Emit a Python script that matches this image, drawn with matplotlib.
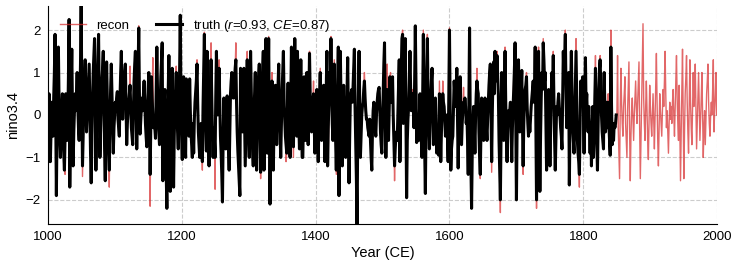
import numpy as np
import matplotlib
matplotlib.use("Agg")
import matplotlib.pyplot as plt

plt.rcParams['font.family'] = ['Liberation Sans', 'DejaVu Sans']
plt.rcParams['mathtext.fontset'] = 'custom'
plt.rcParams['mathtext.rm'] = 'Liberation Sans'
plt.rcParams['mathtext.it'] = 'Liberation Sans:italic'

# ---------------- data (annual values, nino3.4) ----------------
truth_1000 = [
    -1.1, -0.2, 0.5, -0.3, -1.1, -0.4, 0.3, -0.1, -0.5, 0.4,
    1.0, 1.9, 0.0, -1.9, -0.2, 0.8, 1.6, 0.3, -0.6, -1.0,
    -0.3, 0.2, 0.5, -0.4, -0.9, -1.3, -0.5, 0.5, 0.2, -0.6,
    -0.2, 0.9, 2.25, -1.7, -0.3, 0.6, 1.55, 0.1, -1.2, -0.4,
    0.1, 0.5, 0.1, 0.5, 1.0, 0.2, -0.3, -0.6, 0.3, 1.2,
    2.6, 0.4, -1.2, -0.5, 0.4, 0.9, 1.3, 0.6, -0.4, 0.0,
    0.4, 0.8, 1.2, 0.1, -0.9, -1.6, -0.6, 0.4, 1.0, 1.4,
    1.8, 0.3, -1.3, -0.4, 0.5, 1.2, 1.9, 0.4, -1.0, -0.3,
    0.3, 0.8, 1.1, 1.5, 0.2, -0.8, -1.55, -0.2, 1.25, 0.4,
    -0.4, -0.9, -1.3, -0.2, 0.6, 1.2, 0.5, -0.3, -0.9, -0.3]
truth_1100 = [
    0.0, 0.3, 0.2, 0.4, 0.55, -0.1, -0.3, -0.5, 0.4, 1.0,
    1.5, 0.6, -0.1, 0.3, 0.8, 1.0, 1.2, 0.2, -0.7, -0.2,
    0.1, 0.3, 0.5, 0.7, 0.2, -0.3, -0.5, -0.7, 0.1, 0.8,
    1.2, 1.5, 0.3, -0.8, 0.1, 1.0, 2.05, 0.5, -0.45, -0.1,
    0.2, 0.4, 0.1, 0.5, 0.8, 0.3, -0.2, -0.5, -0.75, 0.1,
    0.6, 1.0, 0.0, -1.4, -0.2, 0.9, 0.4, 0.0, -0.3, -0.1,
    -0.3, -0.55, 0.5, 1.6, 0.6, -0.1, -0.4, -0.7, 0.2, 0.9,
    1.3, 1.7, -1.55, -0.4, 0.3, 0.6, -0.5, -1.3, -2.2, -0.3,
    0.6, 1.4, -0.2, -1.8, -0.4, 0.5, 1.1, -0.3, -1.7, -0.5,
    0.2, 0.6, 1.0, 0.1, -0.4, -0.8, 0.1, 1.0, 2.35, 0.4]
truth_1200 = [
    -0.5, -1.05, 0.0, 0.9, -0.1, -0.6, -1.0, 0.85, 0.2, -0.2,
    -0.3, -0.5, 0.85, 0.1, -0.4, -0.7, -1.0, -0.2, -0.9, -0.1,
    0.3, 0.55, 0.8, 1.2, 0.3, -0.4, -0.7, -1.0, -0.5, -0.2,
    -0.8, -1.1, 0.2, 1.0, 1.9, 0.4, -0.3, -0.85, 1.5, 0.3,
    -0.5, -1.2, -0.3, 0.6, 1.3, 0.4, -0.4, -1.0, -0.3, -0.6,
    -1.0, 0.4, 1.5, 0.6, 0.0, 0.5, 1.1, 0.3, -0.5, -0.9,
    -1.4, -2.05, -0.6, 0.4, -0.1, -0.5, -0.8, 0.0, 0.45, -0.3,
    -0.8, -1.3, -0.4, 0.5, 0.8, 1.0, 0.7, 0.4, 0.4, 0.8,
    1.1, 1.3, 0.3, -0.4, -0.85, -1.2, -1.5, -1.9, 1.1, 0.3,
    -0.1, -0.4, 0.4, 1.1, 0.0, -1.2, -0.4, 0.5, 1.3, 0.0]
truth_1300 = [
    -0.5, -1.0, 0.2, 1.5, 0.6, -0.3, -0.8, -1.2, 0.0, 0.5,
    1.0, -0.2, -1.3, -0.3, 0.5, 0.9, 1.2, -0.2, -1.35, -0.4,
    0.4, 1.0, 1.5, -1.3, 0.1, 1.0, 1.8, 0.4, -0.9, 0.4,
    1.8, -0.2, -2.1, -0.6, 0.3, 0.8, -0.3, -1.3, -0.2, 0.3,
    0.7, 0.0, -0.7, 0.1, 0.7, 1.2, 0.2, -0.4, -1.0, -0.2,
    0.5, 1.0, 1.5, 0.4, -0.1, -0.5, -0.7, -0.9, 0.1, 0.75,
    -0.2, -0.6, -1.0, 0.3, 1.6, 0.5, -0.2, -0.75, 0.5, 1.8,
    0.6, -0.1, -0.5, 1.5, 0.6, -0.2, -0.8, 0.3, 1.3, 0.1,
    -1.0, -1.0, 0.0, 0.9, 0.2, -0.6, 0.2, 1.0, 0.1, -0.7,
    0.4, 1.45, 0.5, 0.0, -0.4, 0.1, 0.3, 0.5, -0.2, -0.9]
truth_1400 = [
    -0.2, 0.3, 0.6, -0.3, -1.1, -0.2, 0.5, 1.0, 0.2, -0.6,
    0.0, 0.4, 0.7, -0.3, -1.1, -0.2, 0.6, 1.5, -1.2, -0.3,
    0.4, 1.0, 0.5, 1.8, 0.5, -0.2, -0.6, 0.4, 1.2, 0.1,
    -0.6, -1.3, -0.2, 0.6, 1.6, -1.9, -0.3, 1.5, 0.4, -0.5,
    -1.2, -0.1, 0.7, -0.2, -0.6, -1.0, -0.1, 0.5, 1.35, 0.0,
    -1.6, -0.5, 0.4, 0.5, 0.6, 0.3, 0.65, 1.1, 1.55, 0.2,
    -0.7, -1.5, -2.7, -0.4, 0.6, 1.5, 0.2, -1.0, -0.5, 0.0,
    0.2, 0.3, 0.6, 0.8, 0.4, 0.1, -0.1, -0.1, -0.3, -0.4,
    -0.5, -0.1, -0.6, -1.0, -1.3, -0.4, 0.1, 0.3, -0.1, -0.3,
    -0.5, 0.0, 0.3, 0.5, 0.6, 0.65, 0.1, -0.4, -0.7, -0.9]
truth_1500 = [
    -0.2, 0.6, 1.2, 1.7, 0.2, -1.0, -0.2, 0.6, 0.0, -0.6,
    0.2, 0.9, 0.6, 0.3, 0.6, 0.9, 0.0, -0.6, -1.2, -0.8,
    -0.5, -0.4, -0.6, 0.1, 0.7, 1.3, -1.1, 0.2, 1.0, 1.8,
    1.9, -0.2, 0.5, 1.2, 1.8, 0.0, -1.95, -0.6, -0.1, 0.2,
    0.8, 1.5, 0.6, 0.1, 0.3, 0.5, 0.2, -0.3, 0.8, 2.1,
    0.7, -0.65, -0.3, -0.4, -0.6, 0.0, 0.5, -0.1, -0.6, -1.0,
    0.4, 1.9, 0.2, -0.9, -1.85, -0.2, 1.0, 1.8, 0.5, -0.3,
    -0.8, 0.0, 0.4, 0.8, 1.1, 0.1, -0.7, -0.2, 0.2, 0.4,
    -0.3, -0.9, -0.5, -0.7, -0.95, 0.5, -0.2, -1.1, -0.4, 0.1,
    0.5, 0.3, 0.2, -0.1, -0.5, -0.2, 0.0, -0.5, -1.1, 0.5]
truth_1600 = [
    2.0, 0.2, -1.3, -0.8, -0.6, -0.5, 0.2, 0.8, 0.5, 0.2,
    0.6, 1.1, -0.1, -1.25, -0.1, 0.5, 0.9, 0.1, -0.7, -0.2,
    0.1, 0.3, 0.1, 0.4, 0.2, -0.2, 0.0, -0.6, -1.4, 0.3,
    2.05, -0.1, -1.2, -2.2, -0.9, -0.2, 0.2, -0.3, -0.9, 0.0,
    0.5, 0.8, 0.6, 0.5, -0.4, -1.0, -1.4, -0.4, 0.4, -0.1,
    -0.4, -0.6, 0.0, 0.4, 0.0, -0.3, -0.6, -0.1, 0.3, 0.7,
    1.0, 1.2, 0.0, -1.1, 0.1, 0.9, 1.25, 0.5, 1.5, 0.8,
    0.9, 1.4, 0.9, 0.5, -0.6, -1.3, -2.0, -0.4, 1.0, 0.3,
    -0.2, -0.6, 0.4, 1.5, 0.3, -0.5, -1.1, -0.4, 0.1, -0.2,
    0.1, 0.3, -0.4, -1.1, -0.3, 0.2, 0.6, 1.1, 1.7, -0.2]
truth_1700 = [
    -2.0, -0.3, 0.6, 1.3, 0.4, -0.4, 0.3, 0.6, 1.05, -0.2,
    -1.2, -0.2, 0.3, 0.6, 0.7, 0.9, 0.2, -0.2, -0.5, -0.1,
    -0.4, -0.1, 0.2, 0.4, 0.6, 0.8, 0.3, 0.6, 1.6, -0.3,
    -2.0, -0.4, 0.5, 1.5, -0.2, -1.8, -0.5, 0.4, 1.0, 0.6,
    1.7, 1.3, 0.8, 1.0, -0.1, -1.3, -0.6, 0.1, 0.6, -0.2,
    -1.2, -0.3, 0.5, 1.0, 0.6, 1.4, 0.3, -0.6, -1.3, -0.5,
    0.2, 0.0, 0.3, 0.5, 0.2, 0.0, -0.3, -0.5, -0.8, 0.4,
    1.5, 0.8, 1.3, 1.9, 0.6, -0.3, 0.2, 0.6, 1.0, -1.65,
    -0.2, 0.7, 1.5, 0.5, -0.3, -0.6, -0.9, -0.1, 0.6, 1.5,
    0.4, -0.6, -0.9, -1.1, -1.4, -0.3, 0.8, 0.4, 0.6, 0.9]
truth_1800 = [
    0.2, -0.9, 0.4, 1.35, 0.2, 0.5, -0.1, -0.4, 0.2, -0.3,
    -0.9, -0.2, -1.2, -0.3, 0.2, -1.0, -0.4, 0.3, 1.1, 0.0,
    -0.6, -1.3, -0.2, 0.6, 1.1, 1.3, 0.6, 0.0, -0.4, -0.6,
    -0.8, 1.0, 0.2, -0.4, 0.1, 0.3, -0.3, 0.3, -0.2, -0.6,
    -0.95, 1.6, 0.2, -0.7, -0.4, -0.6, -0.2, -0.3, -0.2, 0.0]

recon_1000 = [
    -1.1, -0.2, 0.5, -0.3, -1.1, -0.9, 0.3, -0.1, -0.5, 0.4,
    1.0, 1.9, 0.0, -1.9, -0.2, 0.8, 1.6, 0.3, -0.6, -1.0,
    -0.3, 0.2, 0.5, -0.4, -0.9, -1.3, -1.4, 0.5, 0.2, -0.6,
    -0.2, 0.9, 2.25, -1.7, -0.3, 0.6, 1.55, 0.1, -1.2, -0.4,
    0.1, 0.5, 0.1, 0.5, 1.0, 0.2, -0.3, -0.6, 0.3, 1.2,
    2.6, 0.4, -1.45, -0.5, 0.4, 0.9, 1.3, 0.6, -0.4, 0.0,
    0.4, 0.8, 1.2, 0.1, -0.9, -1.6, -0.6, 0.4, 1.0, 1.4,
    1.8, 0.3, -1.3, -0.4, 0.5, 1.2, 1.9, 0.4, -1.0, -0.3,
    0.3, 0.8, 1.1, 1.5, 0.2, -1.2, -1.55, -0.2, 1.25, 0.4,
    -0.4, -0.9, -1.7, -0.2, 0.6, 1.2, 0.5, -0.3, -0.9, -0.3]
recon_1100 = [
    0.0, 0.3, 0.2, 0.4, 0.55, -0.1, -0.3, -0.5, 0.4, 1.0,
    1.5, 0.6, -0.1, 0.3, 0.8, 1.0, 1.2, 0.2, -0.7, -0.2,
    0.1, 0.3, 0.5, 1.15, 0.2, -0.3, -0.5, -0.7, 0.1, 0.8,
    1.2, 1.5, 0.3, -0.8, 0.1, 1.0, 2.1, 0.5, -0.45, -0.1,
    0.2, 0.4, 0.1, 0.5, 0.8, 0.3, -0.2, -0.5, -0.75, 0.1,
    0.6, 1.0, 0.0, -2.15, -0.2, 0.9, 0.4, 1.35, -0.3, -0.1,
    -0.3, -0.55, 0.5, 1.6, 0.6, -0.1, -0.4, -0.7, 0.2, 0.9,
    1.3, 1.7, -1.55, -0.4, 0.3, 0.6, -1.0, -1.3, -2.2, -0.3,
    0.6, 1.4, -0.2, -1.8, -0.4, 0.5, 1.1, -0.3, -1.7, -0.5,
    0.2, 0.6, 1.15, 0.1, -0.4, -0.8, 0.1, 1.0, 2.35, 0.4]
recon_1200 = [
    -0.5, -1.05, 0.0, 0.9, -0.1, -0.6, -1.0, 0.85, 0.2, -0.2,
    -0.3, -0.5, 0.85, 0.1, -0.4, -0.7, -1.0, -0.2, -0.9, -0.1,
    0.3, 0.55, 0.8, 1.3, 0.3, -0.4, -0.7, -1.0, -0.5, -0.2,
    -0.8, -1.3, 0.2, 1.0, 1.95, 0.4, -0.3, -0.85, 1.5, 0.3,
    -0.5, -1.2, -0.3, 0.6, 1.7, 0.4, -0.4, -1.0, -0.3, -0.6,
    -1.75, 0.4, 1.5, 0.6, 0.0, 0.5, 1.3, 0.3, -0.5, -0.9,
    -1.4, -2.05, -0.6, 0.4, -0.1, -0.5, -0.8, 0.0, 0.45, -0.3,
    -0.8, -1.3, -0.4, 0.5, 0.8, 1.0, 0.7, 0.4, 0.4, 0.8,
    1.1, 1.7, 0.3, -0.4, -0.85, -1.2, -1.5, -1.9, 1.1, 0.3,
    -0.1, -0.4, 0.4, 1.1, 0.0, -1.2, -0.4, 0.5, 1.5, 0.0]
recon_1300 = [
    -0.5, -1.0, 0.2, 1.5, 0.6, -0.3, -0.8, -1.2, 0.0, 0.5,
    1.0, -0.2, -1.3, -0.3, 0.5, 0.9, 1.2, -0.2, -1.5, -0.4,
    0.4, 1.0, 1.5, -1.3, 0.1, 1.0, 1.8, 0.4, -0.9, 0.4,
    1.85, -0.2, -2.1, -0.6, 0.3, 1.0, -0.3, -1.3, -0.2, 0.3,
    0.7, 0.0, -0.7, 0.1, 0.7, 1.2, 0.2, -0.4, -1.0, -0.2,
    0.5, 1.0, 1.5, 0.4, -0.1, -0.5, -1.1, -0.9, 0.1, 0.75,
    -0.2, -0.6, -1.0, 0.3, 1.6, 0.5, -0.2, -1.0, 0.5, 1.8,
    0.6, -0.1, -0.5, 1.5, 0.6, -0.2, -0.8, 0.3, 1.3, 0.1,
    -1.0, -1.0, 0.0, 0.9, 0.2, -0.6, 0.2, 1.0, 0.1, -0.7,
    0.4, 1.5, 0.5, 0.0, -0.4, 0.1, 0.3, 0.8, -0.2, -0.9]
recon_1400 = [
    -0.2, 0.3, 0.6, -0.3, -1.1, -0.2, 0.5, 1.1, 0.2, -0.6,
    0.0, 0.4, 0.7, -0.3, -1.1, -0.2, 0.6, 1.5, -1.2, -1.0,
    0.4, 1.0, 0.5, 1.85, 0.5, -0.2, -0.6, 0.4, 1.3, 0.1,
    -0.6, -1.4, -0.2, 0.6, 1.6, -1.9, -0.3, 1.5, 0.4, -0.5,
    -1.2, -0.1, 0.7, -0.2, -0.6, -1.0, -0.1, 0.5, 1.35, 0.0,
    -1.6, -0.5, 0.4, 0.5, 0.6, 0.3, 0.65, 1.1, 1.55, 0.2,
    -0.7, -1.5, -2.7, -0.4, 0.6, 1.5, 0.2, -1.0, -0.5, 0.0,
    0.2, 0.3, 0.6, 1.0, 0.4, 0.1, -0.1, -0.1, -0.3, -0.4,
    -0.5, -0.1, -0.6, -1.0, -1.3, -0.4, 0.1, 0.3, -0.1, -0.3,
    -0.5, 0.0, 0.3, 0.5, 0.6, 0.65, 0.1, -0.4, -0.7, -0.9]
recon_1500 = [
    -0.2, 0.6, 1.2, 1.7, 0.2, -1.0, -0.2, 1.2, 0.0, -0.6,
    0.2, 0.9, 1.0, 0.3, 0.6, 0.9, 0.0, -0.6, -1.55, -0.8,
    -0.5, -0.4, -0.6, 0.1, 0.7, 1.3, -1.1, 0.2, 1.0, 1.8,
    2.0, -0.2, 0.5, 1.2, 1.8, 0.0, -1.95, -0.6, -0.1, 0.2,
    0.8, 1.5, 0.6, 0.1, 0.3, 0.6, 0.2, -0.3, 0.8, 2.1,
    0.7, -0.65, -0.3, -0.4, -0.6, 0.0, 0.5, -0.1, -0.6, -1.0,
    0.4, 2.0, 0.2, -0.9, -1.85, -0.2, 1.0, 1.9, 0.5, -0.3,
    -0.8, 0.0, 0.4, 0.8, 1.1, 0.1, -0.7, -0.2, 0.2, 0.4,
    -0.3, -0.9, -0.5, -0.7, -0.95, 0.8, -0.2, -1.1, -0.4, 0.1,
    0.8, 0.3, 0.2, -0.1, -0.5, -0.2, 0.0, -0.5, -1.1, 0.5]
recon_1600 = [
    2.05, 0.2, -1.3, -0.8, -0.6, -0.5, 0.2, 0.8, 0.5, 0.2,
    0.6, 1.1, -0.1, -1.25, -0.1, 0.5, 0.9, 0.1, -0.7, -0.2,
    0.1, 0.65, 0.1, 0.4, 0.2, -0.2, 0.0, -0.6, -1.4, 0.3,
    2.05, -0.1, -1.2, -2.2, -0.9, -0.2, 0.2, -0.3, -0.9, 0.0,
    0.5, 1.1, 0.6, 0.5, -0.4, -1.0, -1.5, -0.4, 0.4, -0.1,
    -0.4, -0.6, 0.0, 0.4, 0.0, -0.3, -0.6, -0.1, 0.3, 0.7,
    1.0, 1.2, 0.0, -1.35, 0.1, 0.9, 1.25, 0.5, 1.5, 0.8,
    0.9, 1.5, 0.9, 0.5, -0.6, -1.3, -2.3, -0.4, 1.0, 0.3,
    -0.2, -0.6, 0.4, 1.6, 0.3, -0.5, -1.1, -0.4, 0.1, -0.2,
    0.1, 0.3, -0.4, -1.1, -0.3, 0.2, 0.9, 1.1, 1.7, -0.2]
recon_1700 = [
    -2.0, -0.3, 0.6, 1.3, 0.4, -0.4, 0.3, 0.6, 1.05, -0.2,
    -1.4, -0.2, 0.3, 0.6, 0.7, 1.0, 0.2, -0.2, -0.5, -0.1,
    -0.4, -0.1, 0.2, 0.4, 0.6, 0.8, 0.3, 0.6, 1.6, -0.3,
    -2.2, -0.4, 0.5, 1.6, -0.2, -1.8, -0.5, 0.4, 1.0, 0.6,
    1.8, 1.3, 0.8, 1.0, -0.1, -1.3, -0.6, 0.1, 0.6, -0.2,
    -1.2, -0.3, 0.5, 1.0, 0.6, 1.5, 0.3, -0.6, -1.3, -0.5,
    0.2, 0.0, 0.3, 0.5, 0.2, 0.0, -0.3, -0.5, -0.8, 0.4,
    1.5, 0.8, 1.3, 2.0, 0.6, -0.3, 0.2, 0.6, 1.0, -1.65,
    -0.2, 0.7, 1.5, 0.5, -0.3, -0.6, -0.9, -0.1, 0.6, 1.8,
    0.4, -0.6, -0.9, -1.1, -1.7, -0.3, 0.8, 0.4, 0.6, 0.9]
recon_1800 = [
    0.2, -0.9, 0.4, 1.35, 0.2, 0.5, -0.1, -0.4, 0.2, -0.3,
    -0.9, -0.2, -1.2, -0.3, 0.2, -1.0, -0.4, 0.3, 1.4, 0.0,
    -0.6, -1.3, -0.2, 0.6, 1.1, 1.4, 0.6, 0.0, -0.4, -0.6,
    -0.8, 1.0, 0.2, -0.4, 0.1, 0.3, -0.3, 0.5, -0.2, -0.6,
    -0.95, 2.0, 0.2, -0.7, -0.4, -0.6, -0.2, -0.3, -0.2, 0.0,
    0.0, 1.4, -0.3, -0.9, -1.5, 0.2, 1.1, 0.3, -0.2, -0.5,
    0.2, 0.5, 0.9, -0.2, -0.6, -1.0, 0.1, 0.7, 1.25, -0.4,
    -1.55, -0.5, 0.1, 0.4, -0.1, -0.6, 0.0, 0.4, 0.8, 0.2,
    -0.2, 0.3, 0.8, 1.25, -0.3, -1.5, -0.6, 0.3, 1.2, 2.15,
    0.4, -0.2, -0.6, 0.2, 0.8, 0.1, -0.6, -1.05, -0.1, 0.7]
recon_1900 = [
    0.2, -0.2, -0.5, 0.0, 0.5, -0.1, -0.8, -0.1, 0.7, 1.45,
    0.3, -0.6, -1.2, -0.3, 0.5, 0.1, -0.2, -0.5, 0.1, 0.6,
    0.2, 0.8, 1.5, 0.5, -0.3, 0.1, -0.4, -0.9, -0.2, 0.3,
    -0.1, 0.2, -0.2, 0.3, 0.6, 0.0, -0.5, 0.2, 0.8, 1.4,
    0.4, -0.2, -0.6, 0.7, -0.3, -1.55, -0.4, 0.6, 1.55, 0.0,
    -1.5, -0.4, 0.5, 0.9, 1.4, 0.3, -0.4, -0.9, 0.2, 1.3,
    0.3, -0.3, -0.7, 0.2, 1.0, 0.2, 0.5, 1.2, 0.2, -0.8,
    -0.2, 0.4, 1.0, 0.2, -0.6, -0.1, 0.4, 1.0, 0.0, -1.0,
    -0.3, 0.1, -0.7, -0.1, 0.5, 0.8, 1.2, 0.3, -0.2, -0.5,
    0.0, 0.3, 0.0, 0.6, 1.3, -0.4, 0.1, 0.5, 1.0, 0.0]

start_year = 1000
recon_label = 'recon'
truth_label = 'truth ($r$=0.93, $CE$=0.87)'

truth = np.concatenate([truth_1000, truth_1100, truth_1200, truth_1300, truth_1400,
                        truth_1500, truth_1600, truth_1700, truth_1800])
recon = np.concatenate([recon_1000, recon_1100, recon_1200, recon_1300, recon_1400,
                        recon_1500, recon_1600, recon_1700, recon_1800, recon_1900])
years_truth = start_year + np.arange(len(truth))
years_recon = start_year + np.arange(len(recon))

# ---------------- figure ----------------
fig = plt.figure(figsize=(7.38, 2.68), dpi=100)
ax = fig.add_axes([0.0646, 0.164, 0.9074, 0.814])

ax.plot(years_recon, recon, color='#d62728', lw=1.0, alpha=0.7, label=recon_label, zorder=2)
ax.plot(years_truth, truth, color='black', lw=2.2, label=truth_label, zorder=3)

ax.set_xlim(1000, 2000)
ax.set_ylim(-2.57, 2.57)
ax.set_xticks([1000, 1200, 1400, 1600, 1800, 2000])
ax.set_yticks([-2, -1, 0, 1, 2])
ax.set_yticklabels(['\u22122', '\u22121', '0', '1', '2'])
ax.grid(True, ls='--', color='#cccccc', lw=0.8)
ax.set_axisbelow(True)
for s in ['top', 'right']:
    ax.spines[s].set_visible(False)
ax.tick_params(axis='both', length=0, pad=5, labelsize=9.5)
ax.set_xlabel('Year (CE)', fontsize=10.5, labelpad=2)
ax.set_ylabel('nino3.4', fontsize=10.5, labelpad=4)

ax.legend(loc='upper left', ncol=2, frameon=False, fontsize=9.5)

fig.savefig('out.png', dpi=100)
